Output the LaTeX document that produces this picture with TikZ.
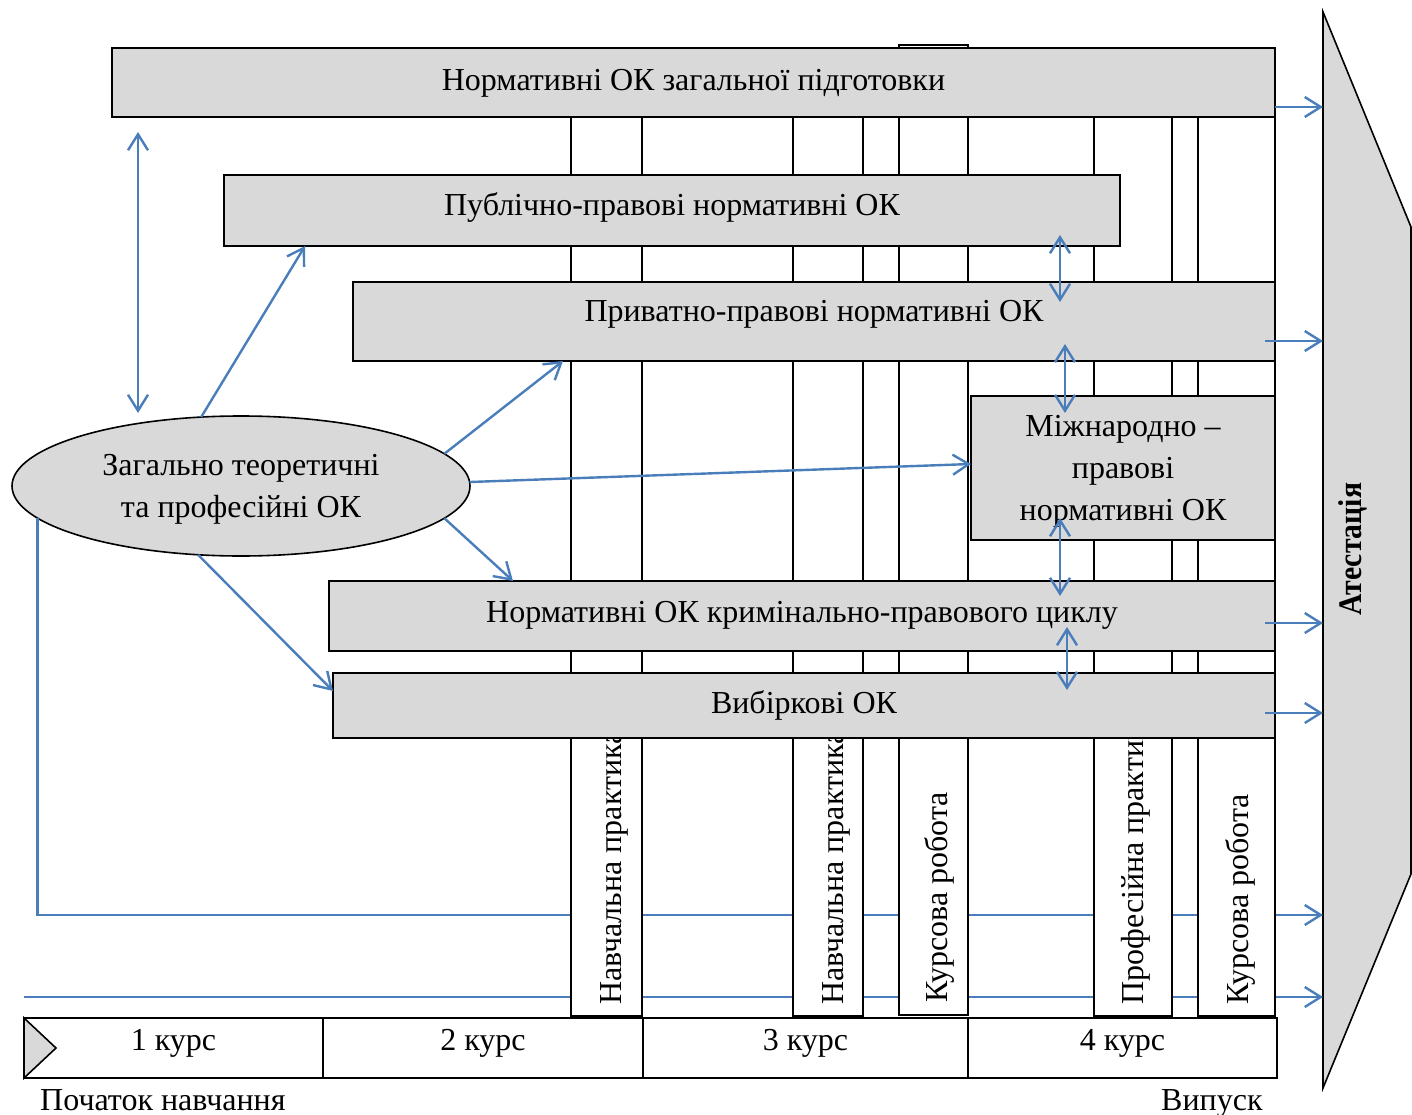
\documentclass[tikz,border=0pt]{standalone}
\usepackage{fontspec}
\usepackage{graphicx}
\setmainfont{Liberation Serif}
\usetikzlibrary{arrows.meta,shapes.geometric}
\definecolor{boxgrey}{RGB}{217,217,217}
\definecolor{linkblue}{RGB}{74,126,187}
\tikzset{
  lbl/.style={font=\fontsize{32}{42}\selectfont},
  okbox/.style={draw=black, line width=1.6pt, fill=boxgrey, rectangle, inner sep=0pt, outer sep=0pt},
  colbox/.style={draw=black, line width=1.6pt, fill=white, rectangle, inner sep=0pt, outer sep=0pt},
  yearcell/.style={draw=black, line width=2pt, fill=white, rectangle, inner sep=0pt, outer sep=0pt, minimum height=60pt},
  blueline/.style={draw=linkblue, line width=2.4pt},
  tipB/.tip={Straight Barb[length=16pt,width=20pt]},
  bluearrow/.style={blueline, -tipB},
  bluedouble/.style={blueline, tipB-tipB},
  coltext/.style={lbl, rotate=90, anchor=base west, inner sep=0pt}
}
\begin{document}
\begin{tikzpicture}[x=1pt,y=-1pt]
\useasboundingbox (0,0) rectangle (1412,1115);

% Attestation
\draw[line width=1.6pt, fill=boxgrey] (1323,12) -- (1411,227) -- (1411,874) -- (1323,1088) -- cycle;
\node[rotate=90, font=\bfseries\fontsize{33}{36}\selectfont, inner sep=0pt] (att) at (1353,549) {\scalebox{0.9}[1]{Атестація}};

% ellipse
\node[ellipse, draw=black, line width=1.6pt, fill=boxgrey, minimum width=458pt, minimum height=140pt, inner sep=0pt, outer sep=0pt,
  label={[lbl,align=center,yshift=-3.5pt]center:{Загально теоретичні\\та професійні ОК}}] (ell) at (241,486) {};

% end coordinates
\coordinate (t107) at (1323,107);
\coordinate (t341) at (1323,341);
\coordinate (t623) at (1323,623);
\coordinate (t713) at (1323,713);
\coordinate (t915) at (1323,915);
\coordinate (t997) at (1323,997);
\coordinate (s997) at (24,997);

% background blue lines
\draw[bluearrow] (ell.189.2) |- (t915);
\draw[bluearrow] (s997) -- (t997);

% columns
\node[colbox, minimum width=71pt, minimum height=968pt] (c1) at (606.5,532) {};
\node[colbox, minimum width=70pt, minimum height=968pt] (c2) at (828,532) {};
\node[colbox, minimum width=69pt, minimum height=970pt] (c3) at (933.5,530) {};
\node[colbox, minimum width=78pt, minimum height=968pt] (c4) at (1133,532) {};
\node[colbox, minimum width=77pt, minimum height=968pt] (c5) at (1236.5,532) {};

\begin{scope}
\clip (571,738) rectangle (1275,1016);
\node[coltext] (n1) at (621,1005) {Навчальна практика};
\node[coltext] (n2) at (843,1005) {Навчальна практика};
\node[coltext] (n3) at (947,1003) {Курсова робота};
\node[coltext] (n4) at (1143,1005) {Професійна практика};
\node[coltext] (n5) at (1248,1005) {Курсова робота};
\end{scope}

% boxes
\node[okbox, minimum width=1163pt, minimum height=69pt, label={[lbl,yshift=-1pt]center:Нормативні ОК загальної підготовки}] (b1) at (693.5,82.5) {};
\node[okbox, minimum width=896pt, minimum height=71pt, label={[lbl,yshift=2.5pt]center:Публічно-правові нормативні ОК}] (b2) at (672,210.5) {};
\node[okbox, minimum width=922pt, minimum height=79pt, label={[lbl,yshift=7pt]center:Приватно-правові нормативні ОК}] (b3) at (814,321.5) {};
\node[okbox, minimum width=304pt, minimum height=144pt, label={[lbl,align=center,yshift=-3pt]center:{Міжнародно –\\правові\\нормативні ОК}}] (b4) at (1123,468) {};
\node[okbox, minimum width=946pt, minimum height=70pt, label={[lbl,yshift=1pt]center:Нормативні ОК кримінально-правового циклу}] (b5) at (802,616) {};
\node[okbox, minimum width=942pt, minimum height=65pt, label={[lbl,yshift=0pt]center:Вибіркові ОК}] (b6) at (804,705.5) {};

% year table
\node[yearcell, minimum width=299pt, label={[lbl,yshift=5pt]center:1 курс}] (k1) at (173.5,1048) {};
\node[yearcell, minimum width=320pt, label={[lbl,yshift=5pt]center:2 курс}] (k2) at (483,1048) {};
\node[yearcell, minimum width=325pt, label={[lbl,yshift=5pt]center:3 курс}] (k3) at (805.5,1048) {};
\node[yearcell, minimum width=309pt, label={[lbl,yshift=5pt]center:4 курс}] (k4) at (1122.5,1048) {};
\draw[line width=1.6pt, fill=boxgrey] (k1.north west) -- ([xshift=32pt]k1.west) -- (k1.south west) -- cycle;

\node[lbl, anchor=base west, inner sep=0pt] (start) at (40,1110) {Початок навчання};
\node[lbl, anchor=base west, inner sep=0pt] (grad) at (1161,1110) {Випуск};

% arrows from the ellipse
\coordinate (d1a) at (138,132);
\coordinate (d1b) at (138,413);
\draw[bluedouble] (d1a) -- (d1b);
\draw[bluearrow] (ell.120.7) -- ([xshift=81pt]b2.south west);
\draw[bluearrow] (ell.9.06) -- ([xshift=210pt]b3.south west);
\draw[bluearrow] (ell.1.5) -- ([yshift=4pt]b4.west);
\draw[bluearrow] (ell.351.1) -- ([xshift=184pt]b5.north west);
\draw[bluearrow] (ell.238) -- ([yshift=14.5pt]b6.west);

% double arrows between boxes
\coordinate (d2a) at (1060,235); \coordinate (d2b) at (1060,302);
\coordinate (d3a) at (1065,344); \coordinate (d3b) at (1065,413);
\coordinate (d4a) at (1060,518); \coordinate (d4b) at (1060,596);
\coordinate (d5a) at (1067,627); \coordinate (d5b) at (1067,690);
\draw[bluedouble] (d2a) -- (d2b);
\draw[bluedouble] (d3a) -- (d3b);
\draw[bluedouble] (d4a) -- (d4b);
\draw[bluedouble] (d5a) -- (d5b);

% arrows to attestation
\draw[bluearrow] ([yshift=-24.5pt]b1.east) -- (t107);
\draw[bluearrow] ([xshift=-10pt,yshift=-19.5pt]b3.east) -- (t341);
\draw[bluearrow] ([xshift=-10pt,yshift=-7pt]b5.east) -- (t623);
\draw[bluearrow] ([xshift=-10pt,yshift=-7.5pt]b6.east) -- (t713);
\end{tikzpicture}
\end{document}
